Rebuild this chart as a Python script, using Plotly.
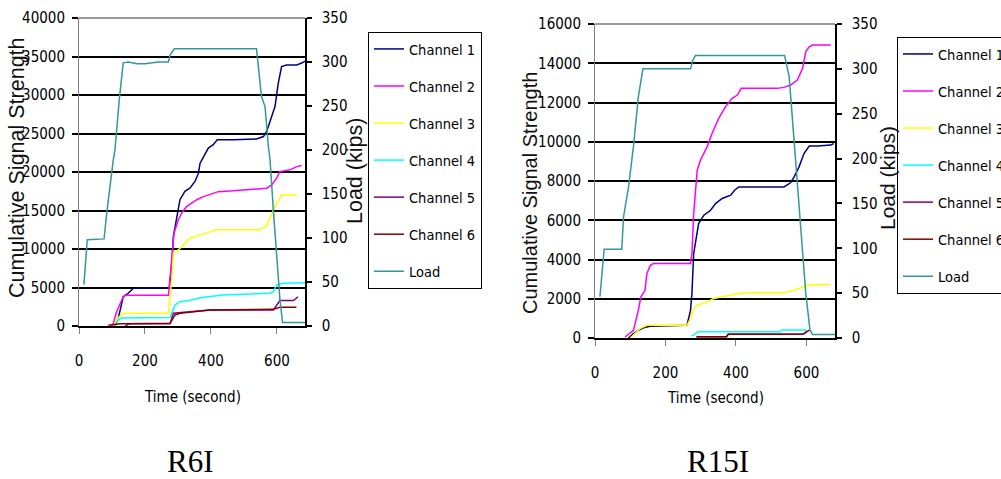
import plotly.graph_objects as go

# ---------------- data: R6I (left chart) ----------------
t_load_L = [15, 25, 76, 84, 104, 109, 122, 134, 150, 175, 200, 240, 271, 276, 289, 538, 553, 564, 574, 579, 589, 599, 609, 617, 685]
load_L = [47, 98, 99, 128, 189, 200, 257, 299, 300, 298, 298, 300, 300, 308, 315, 315, 261, 249, 204, 189, 132, 75, 30, 4, 4]

t1L = [104, 109, 119, 134, 149, 165, 274, 281, 286, 296, 306, 321, 336, 352, 362, 367, 382, 392, 407, 419, 468, 538, 559, 569, 584, 594, 604, 614, 629, 660, 675, 685]
c1L = [0, 130, 1000, 3800, 4250, 4900, 5000, 7700, 11600, 13800, 16400, 17500, 17900, 18800, 19850, 21150, 22450, 23100, 23550, 24200, 24200, 24300, 24600, 25300, 27200, 28500, 31550, 33700, 33900, 33900, 34150, 34400]

t2L = [100, 104, 114, 124, 134, 144, 150, 271, 278, 284, 288, 301, 311, 326, 342, 357, 377, 407, 422, 468, 528, 569, 584, 599, 609, 639, 660, 675]
c2L = [0, 350, 1860, 2950, 3800, 4030, 4000, 4000, 7700, 10750, 12050, 13800, 14650, 15500, 15950, 16400, 16800, 17250, 17450, 17550, 17750, 17900, 18330, 19200, 20050, 20280, 20700, 20850]

t3L = [104, 114, 124, 134, 271, 276, 281, 286, 301, 311, 336, 367, 417, 468, 548, 569, 584, 599, 614, 660]
c3L = [0, 780, 1300, 1650, 1650, 3500, 6000, 9450, 9880, 10300, 11400, 11800, 12500, 12500, 12500, 13100, 14650, 15950, 17000, 17000]

t4L = [109, 119, 129, 276, 291, 306, 336, 377, 437, 538, 579, 589, 599, 619, 685]
c4L = [0, 780, 1050, 1100, 2730, 3160, 3350, 3720, 4030, 4150, 4250, 4460, 5320, 5540, 5620]

t5L = [140, 154, 276, 286, 336, 397, 589, 609, 650, 664]
c5L = [0, 300, 300, 1650, 1860, 2080, 2080, 3300, 3300, 3800]

t6L = [89, 124, 276, 291, 306, 336, 397, 589, 609, 659]
c6L = [100, 300, 350, 1430, 1650, 1780, 2080, 2160, 2430, 2430]

# ---------------- data: R15I (right chart) ----------------
t_load_R = [14, 26, 76, 81, 95, 109, 123, 136, 271, 278, 285, 538, 551, 565, 584, 598, 610, 617, 684]
load_R = [46, 99, 99, 135, 168, 213, 269, 300, 300, 310, 315, 315, 291, 217, 116, 50, 9, 4, 4]

t1R = [95, 109, 123, 138, 156, 261, 271, 275, 280, 288, 294, 309, 328, 342, 361, 385, 396, 408, 536, 555, 565, 579, 593, 608, 631, 669, 677]
c1R = [0, 220, 390, 520, 600, 650, 1410, 2260, 4300, 5320, 5830, 6260, 6510, 6850, 7110, 7280, 7530, 7700, 7700, 7910, 8210, 8720, 9400, 9780, 9780, 9830, 9910]

t2R = [85, 109, 123, 130, 142, 147, 157, 166, 271, 275, 280, 285, 290, 299, 318, 332, 351, 370, 389, 404, 415, 517, 536, 555, 574, 589, 598, 608, 617, 669]
c2R = [50, 390, 1410, 2090, 2430, 3280, 3700, 3790, 3790, 4300, 6340, 7700, 8550, 9060, 9740, 10420, 11190, 11780, 12210, 12380, 12720, 12720, 12770, 12890, 13140, 13740, 14590, 14840, 14930, 14930]

t3R = [100, 114, 128, 147, 261, 271, 280, 290, 304, 318, 337, 365, 404, 441, 536, 565, 589, 603, 669]
c3R = [0, 220, 480, 650, 650, 990, 1500, 1670, 1750, 1840, 2010, 2130, 2260, 2300, 2300, 2430, 2600, 2690, 2740]

t4R = [274, 293, 525, 530, 600]
c4R = [100, 320, 320, 410, 410]

t5R = [288, 373, 378, 591, 600]
c5R = [70, 70, 190, 200, 300]

t6R = [288, 373, 378, 591, 600, 610]
c6R = [70, 70, 190, 200, 320, 410]

names = ["Channel 1", "Channel 2", "Channel 3", "Channel 4", "Channel 5", "Channel 6", "Load"]
colors = ["#000080", "#FF00FF", "#FFFF00", "#00FFFF", "#800080", "#800000", "#339999"]

x_ticks = [0, 200, 400, 600]
captions = ["R6I", "R15I"]

W, H = 1001, 479
NARROW = "DejaVu Sans Condensed, Liberation Sans Narrow, Arial Narrow, sans-serif"
SANS = "Liberation Sans, Arial, sans-serif"
SERIF = "Liberation Serif, Times New Roman, serif"


def px_x(p):
    return p / W


def px_y(p):
    return 1 - p / H


fig = go.Figure()

left_series = [(t1L, c1L), (t2L, c2L), (t3L, c3L), (t4L, c4L), (t5L, c5L), (t6L, c6L)]
right_series = [(t1R, c1R), (t2R, c2R), (t3R, c3R), (t4R, c4R), (t5R, c5R), (t6R, c6R)]

for i, (t, c) in enumerate(left_series):
    fig.add_trace(go.Scatter(x=t, y=c, mode="lines", name=names[i],
                             line=dict(color=colors[i], width=1.5),
                             xaxis="x", yaxis="y", legend="legend",
                             legendgroup="L" + str(i)))
fig.add_trace(go.Scatter(x=t_load_L, y=load_L, mode="lines", name=names[6],
                         line=dict(color=colors[6], width=1.5),
                         xaxis="x", yaxis="y2", legend="legend", legendgroup="L6"))

for i, (t, c) in enumerate(right_series):
    fig.add_trace(go.Scatter(x=t, y=c, mode="lines", name=names[i],
                             line=dict(color=colors[i], width=1.5),
                             xaxis="x2", yaxis="y3", legend="legend2",
                             legendgroup="R" + str(i)))
fig.add_trace(go.Scatter(x=t_load_R, y=load_R, mode="lines", name=names[6],
                         line=dict(color=colors[6], width=1.5),
                         xaxis="x2", yaxis="y4", legend="legend2", legendgroup="R6"))

tickfont = dict(family=NARROW, size=15, color="black")

xcommon = dict(tickvals=x_ticks, ticks="outside", ticklen=6, tickcolor="#808080",
               showline=True, linecolor="black", linewidth=2, showgrid=False,
               zeroline=False, tickfont=tickfont, ticklabelstandoff=14)
yleft_common = dict(showgrid=True, gridcolor="black", gridwidth=2, ticks="outside",
                    ticklen=6, tickcolor="black", tickwidth=2, showline=True,
                    linecolor="#808080", linewidth=1, zeroline=False,
                    tickfont=tickfont, ticklabelstandoff=4, tickformat="d")
yright_common = dict(range=[0, 350], dtick=50, side="right", showgrid=False,
                     ticks="outside", ticklen=5, tickcolor="black", tickwidth=1.5,
                     showline=True, linecolor="black", linewidth=1.5,
                     zeroline=False, tickfont=tickfont, ticklabelstandoff=7,
                     tickformat="d")

fig.update_layout(
    width=W, height=H,
    margin=dict(l=0, r=0, t=0, b=0, pad=0, autoexpand=False),
    paper_bgcolor="white", plot_bgcolor="white",
    xaxis=dict(domain=[px_x(79), px_x(305)], anchor="y", range=[0, 685], **xcommon),
    yaxis=dict(domain=[px_y(326), px_y(18)], anchor="x", range=[0, 40000], dtick=5000, **yleft_common),
    yaxis2=dict(overlaying="y", anchor="x", **yright_common),
    xaxis2=dict(domain=[px_x(595), px_x(835)], anchor="y3", range=[0, 681], **xcommon),
    yaxis3=dict(domain=[px_y(338), px_y(24)], anchor="x2", range=[0, 16000], dtick=2000, **yleft_common),
    yaxis4=dict(overlaying="y3", anchor="x2", **yright_common),
    legend=dict(x=px_x(368), y=px_y(32), xanchor="left", yanchor="top",
                bordercolor="black", borderwidth=1, bgcolor="white",
                font=dict(family=NARROW, size=14.5, color="black"),
                tracegroupgap=15.2, traceorder="grouped"),
    legend2=dict(x=px_x(897), y=px_y(37), xanchor="left", yanchor="top",
                 bordercolor="black", borderwidth=1, bgcolor="white",
                 font=dict(family=NARROW, size=14.5, color="black"),
                 tracegroupgap=15.2, traceorder="grouped"),
    showlegend=True,
)

# thin grey top border of each plot area (as in the original Excel charts)
for xr, yr in (("x domain", "y domain"), ("x2 domain", "y3 domain")):
    fig.add_shape(type="line", xref=xr, yref=yr, x0=0, x1=1, y0=1, y1=1,
                  line=dict(color="#9a9a9a", width=2), layer="above")

ann = [
    ("Cumulative Signal Strength", 17, 168, -90, dict(family=SANS, size=21.5, color="#111")),
    ("Load (kips)", 355, 171, -90, dict(family=SANS, size=21.5, color="#111")),
    ("Time (second)", 192, 397, 0, dict(family=NARROW, size=15, color="black")),
    ("Cumulative Signal Strength", 530, 193, -90, dict(family=SANS, size=20, color="#111")),
    ("Load (kips)", 887, 178, -90, dict(family=SANS, size=21, color="#111")),
    ("Time (second)", 715, 398, 0, dict(family=NARROW, size=15, color="black")),
    (captions[0], 190, 461, 0, dict(family=SERIF, size=31, color="black")),
    (captions[1], 718, 461, 0, dict(family=SERIF, size=31, color="black")),
]
for text, x, y, ang, font in ann:
    fig.add_annotation(text=text, x=px_x(x), y=px_y(y), xref="paper", yref="paper",
                       xanchor="center", yanchor="middle", showarrow=False,
                       textangle=ang, font=font)

fig.write_html("out.html")
